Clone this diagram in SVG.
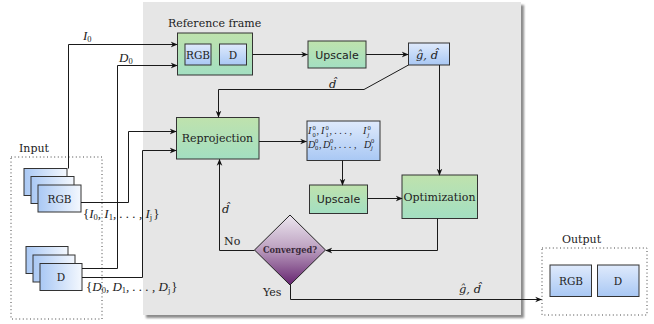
<svg xmlns="http://www.w3.org/2000/svg" width="654" height="324" viewBox="0 0 654 324">
  <defs>
    <linearGradient id="gGreen" x1="0" y1="0" x2="0" y2="1">
      <stop offset="0" stop-color="#bfe2ad"/>
      <stop offset="1" stop-color="#a3dfc2"/>
    </linearGradient>
    <linearGradient id="gBlue" x1="0" y1="0" x2="0" y2="1">
      <stop offset="0" stop-color="#dfeafc"/>
      <stop offset="1" stop-color="#a9c8f4"/>
    </linearGradient>
    <linearGradient id="gBlueH" x1="0" y1="0" x2="1" y2="0">
      <stop offset="0" stop-color="#a9c8f4"/>
      <stop offset="1" stop-color="#f4f8fe"/>
    </linearGradient>
    <linearGradient id="gPurple" x1="0" y1="0" x2="0" y2="1">
      <stop offset="0" stop-color="#ece6ef"/>
      <stop offset="0.45" stop-color="#c0a6c4"/>
      <stop offset="1" stop-color="#662470"/>
    </linearGradient>
    <filter id="soft" x="-5%" y="-5%" width="110%" height="110%">
      <feGaussianBlur stdDeviation="1.2"/>
    </filter>
    <marker id="arr" viewBox="0 0 10 10" refX="9" refY="5" markerWidth="7" markerHeight="7" orient="auto" markerUnits="userSpaceOnUse">
      <path d="M0,1 L10,5 L0,9 L3,5 z" fill="#111"/>
    </marker>
  </defs>
  <style>
    .lbl { font-family: "DejaVu Serif", "Liberation Serif", serif; font-size: 11px; fill: #222; }
    .box { font-family: "DejaVu Serif", "Liberation Serif", serif; font-size: 10.5px; fill: #222; text-anchor: middle; }
    .sans { font-family: "DejaVu Sans", "Liberation Sans", sans-serif; font-size: 11px; fill: #222; text-anchor: middle; }
    .math { font-family: "Liberation Serif", "DejaVu Serif", serif; font-style: italic; font-size: 13px; fill: #222; }
    .acc { font-family: "DejaVu Serif", "Liberation Serif", serif; font-style: italic; font-size: 11.5px; fill: #222; }
    .up { font-style: normal; }
    .sub { font-size: 8.5px; font-style: normal; }
    .green { fill: url(#gGreen); stroke: #333; stroke-width: 1; }
    .blue { fill: url(#gBlue); stroke: #333; stroke-width: 1; }
    .blueH { fill: url(#gBlueH); stroke: #333; stroke-width: 1; }
    .dotted { fill: none; stroke: #444; stroke-width: 1; stroke-dasharray: 1 2.6; }
    .wire { fill: none; stroke: #1a1a1a; stroke-width: 1; }
  </style>

  <!-- processing panel with drop shadow -->
  <g id="panel">
    <rect x="146" y="5" width="378" height="313" fill="#8c8c8c" filter="url(#soft)"/>
    <rect x="143" y="2" width="378" height="313" fill="#e6e6e6"/>
  </g>

  <!-- input stacks -->
  <g id="input">
    <rect class="dotted" x="11" y="157" width="91" height="162"/>
    <text class="lbl" x="19" y="152">Input</text>
    <rect class="blueH" x="24" y="168.5" width="43" height="27"/>
    <rect class="blueH" x="31" y="176.5" width="43" height="27"/>
    <rect class="blueH" x="38" y="185" width="43" height="27"/>
    <text class="box" x="59.5" y="202.5">RGB</text>
    <rect class="blueH" x="26" y="246.5" width="42" height="27"/>
    <rect class="blueH" x="33" y="255" width="42" height="27"/>
    <rect class="blueH" x="40" y="263.5" width="42" height="27"/>
    <text class="box" x="61" y="281">D</text>
  </g>

  <g id="reference-frame">
    <text class="lbl" x="168" y="27">Reference frame</text>
    <rect class="green" x="177.5" y="33" width="75" height="42"/>
    <rect class="blue" x="185" y="44" width="26" height="21"/>
    <text class="box" x="198" y="58.5">RGB</text>
    <rect class="blue" x="219.5" y="44" width="27" height="21"/>
    <text class="box" x="233" y="58.5">D</text>
  </g>

  <g id="upscale-ref">
    <rect class="green" x="308" y="41" width="58" height="27"/>
    <text class="sans" x="337" y="58.5">Upscale</text>
  </g>

  <g id="estimate">
    <rect class="blue" x="408.5" y="43" width="41" height="22"/>
    <text class="acc" x="416" y="59">ĝ, d̂</text>
  </g>

  <g id="reprojection">
    <rect class="green" x="176.5" y="117.5" width="82.5" height="41.5"/>
    <text class="box" x="217.5" y="142" style="font-size:11px">Reprojection</text>
  </g>

  <g id="reprojected">
    <rect class="blue" x="307" y="121" width="73" height="39.5"/>
    <text class="math" style="font-size:10px">
      <tspan x="308" y="134">I</tspan><tspan x="312.5" y="136.5" font-size="6.5" font-style="normal">0</tspan><tspan x="312.5" y="129.5" font-size="6.5" font-style="normal">0</tspan><tspan x="316.5" y="134">,</tspan>
      <tspan x="321" y="134">I</tspan><tspan x="325.5" y="136.5" font-size="6.5" font-style="normal">1</tspan><tspan x="325.5" y="129.5" font-size="6.5" font-style="normal">0</tspan><tspan x="329.5" y="134">, . . . ,</tspan>
      <tspan x="363" y="134">I</tspan><tspan x="367.5" y="136.5" font-size="6.5">j</tspan><tspan x="367.5" y="129.5" font-size="6.5" font-style="normal">0</tspan>
      <tspan x="308" y="147.5">D</tspan><tspan x="315" y="150" font-size="6.5" font-style="normal">0</tspan><tspan x="315" y="143" font-size="6.5" font-style="normal">0</tspan><tspan x="319" y="147.5">,</tspan>
      <tspan x="323" y="147.5">D</tspan><tspan x="330" y="150" font-size="6.5" font-style="normal">1</tspan><tspan x="330" y="143" font-size="6.5" font-style="normal">0</tspan><tspan x="334" y="147.5">, . . . ,</tspan>
      <tspan x="364" y="147.5">D</tspan><tspan x="371" y="150" font-size="6.5">j</tspan><tspan x="371" y="143" font-size="6.5" font-style="normal">0</tspan>
    </text>
  </g>

  <g id="upscale-reproj">
    <rect class="green" x="309.5" y="185" width="58" height="28.5"/>
    <text class="sans" x="338.5" y="203">Upscale</text>
  </g>

  <g id="optimization">
    <rect class="green" x="402" y="175" width="75.5" height="43.5"/>
    <text class="box" x="439.5" y="201" style="font-size:11px">Optimization</text>
  </g>

  <g id="converged">
    <path d="M290,215 L325.5,250 L290,285 L254.5,250 Z" fill="url(#gPurple)" stroke="#222" stroke-width="1"/>
    <text x="290" y="253" text-anchor="middle" style="font-family:'DejaVu Serif','Liberation Serif',serif;font-size:8.5px;font-weight:bold;fill:#3a2a3a" textLength="54" lengthAdjust="spacingAndGlyphs">Converged?</text>
  </g>

  <g id="output">
    <text class="lbl" x="562" y="243">Output</text>
    <rect class="dotted" x="542" y="248" width="105" height="67"/>
    <rect class="blue" x="550" y="265" width="41.5" height="31.5"/>
    <text class="box" x="571" y="285">RGB</text>
    <rect class="blue" x="597.5" y="265" width="41.5" height="31.5"/>
    <text class="box" x="618" y="285">D</text>
  </g>

  <!-- connectors -->
  <g id="connectors">
    <path class="wire" d="M68.5,168.5 V44.5 H177" marker-end="url(#arr)"/>
    <path class="wire" d="M82,268.5 H117.5 V65.5 H177" marker-end="url(#arr)"/>
    <path class="wire" d="M81,202.5 H128.5 V131.5 H176" marker-end="url(#arr)"/>
    <path class="wire" d="M82,277.5 H142.5 V150.5 H176" marker-end="url(#arr)"/>
    <path class="wire" d="M252.5,54.5 H307.5" marker-end="url(#arr)"/>
    <path class="wire" d="M366,54.5 H408" marker-end="url(#arr)"/>
    <path class="wire" d="M408.5,65 L364,89.5 H218.5 V117" marker-end="url(#arr)"/>
    <path class="wire" d="M439.5,65 V175" marker-end="url(#arr)"/>
    <path class="wire" d="M259,141.5 H306.5" marker-end="url(#arr)"/>
    <path class="wire" d="M342.5,160.5 V185" marker-end="url(#arr)"/>
    <path class="wire" d="M367.5,198.5 H402" marker-end="url(#arr)"/>
    <path class="wire" d="M437.5,218.5 V250.5 H326" marker-end="url(#arr)"/>
    <path class="wire" d="M254.5,250.5 H219.5 V159.5" marker-end="url(#arr)"/>
    <path class="wire" d="M290.5,285 V299.5 H541.5" marker-end="url(#arr)"/>

    <!-- wire labels -->
    <text class="math" x="83" y="40">I<tspan class="sub" dy="2">0</tspan></text>
    <text class="math" x="119" y="62">D<tspan class="sub" dy="2">0</tspan></text>
    <text class="acc" x="329" y="88">d̂</text>
    <text class="acc" x="222" y="213">d̂</text>
    <text class="lbl" x="224" y="245">No</text>
    <text class="lbl" x="263" y="296">Yes</text>
    <text class="acc" x="459" y="293">ĝ, d̂</text>
    <text class="math" x="83" y="218"><tspan class="up">{</tspan>I<tspan class="sub" dy="2">0</tspan><tspan dy="-2">, I</tspan><tspan class="sub" dy="2">1</tspan><tspan dy="-2">, . . . , I</tspan><tspan class="sub" dy="2" font-style="italic">j</tspan><tspan class="up" dy="-2" dx="1">}</tspan></text>
    <text class="math" x="86" y="291"><tspan class="up">{</tspan>D<tspan class="sub" dy="2">0</tspan><tspan dy="-2">, D</tspan><tspan class="sub" dy="2">1</tspan><tspan dy="-2">, . . . , D</tspan><tspan class="sub" dy="2" font-style="italic">j</tspan><tspan class="up" dy="-2" dx="1">}</tspan></text>
  </g>
</svg>
